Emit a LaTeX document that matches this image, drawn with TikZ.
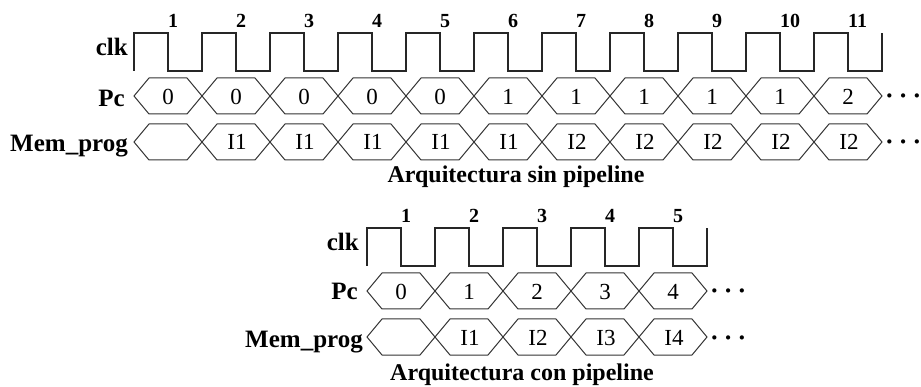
\documentclass[tikz,border=0pt]{standalone}
\usepackage{fontspec}
\setmainfont{Liberation Serif}
\usepackage{tikz}

\begin{document}
\begin{tikzpicture}[
  x=1pt, y=-1pt,
  sig/.style={line width=1.2pt, black!85},
  bus/.style={line width=1pt, black!80},
  lbl/.style={font=\fontsize{25}{25}\selectfont\bfseries, anchor=base east, inner sep=0pt},
  num/.style={font=\fontsize{20}{20}\selectfont\bfseries, anchor=base west, inner sep=0pt},
  val/.style={font=\fontsize{23}{23}\selectfont, anchor=base, inner sep=0pt},
  more/.style={font=\fontsize{26}{26}\selectfont\bfseries, anchor=base west, inner sep=0pt},
  title/.style={font=\fontsize{24}{24}\selectfont\bfseries, anchor=base, inner sep=0pt}
]
\useasboundingbox (0,0) rectangle (921,387);

% --- without pipeline: 11 clock cycles ---
\node[lbl] (clk1) at (128,56) {clk};
\node[lbl] (pc1) at (125,107) {Pc};
\node[lbl] (mem1) at (128,152) {Mem\_prog};
\draw[sig] (134,71) \foreach \i in {0,...,10}{ -- ++(0,-38) -- ++(34,0) -- ++(0,38) -- ++(34,0) } -- ++(0,-38);
\foreach \i in {1,...,11}
  \node[num] (n1-\i) at ({100+68*\i},28) {\i};
\foreach \v [count=\i from 0] in {0,0,0,0,0,1,1,1,1,1,2} {
  \draw[bus] ({134+68*\i},96) -- ++(15,-18) -- ++(38,0) -- ++(15,18) -- ++(-15,18) -- ++(-38,0) -- cycle;
  \node[val] (pc1-\i) at ({168+68*\i},105) {\v};
}
\foreach \v [count=\i from 0] in {{},I1,I1,I1,I1,I1,I2,I2,I2,I2,I2} {
  \draw[bus] ({134+68*\i},142) -- ++(15,-18) -- ++(38,0) -- ++(15,18) -- ++(-15,18) -- ++(-38,0) -- cycle;
  \node[val] (mem1-\i) at ({169+68*\i},150) {\v};
}
\node[more] (dots1a) at (885,105) {·\kern5pt·\kern5pt·};
\node[more] (dots1b) at (885,151) {·\kern5pt·\kern5pt·};
\node[title] (title1) at (516,183) {Arquitectura sin pipeline};

% --- with pipeline: 5 clock cycles ---
\node[lbl] (clk2) at (359,251) {clk};
\node[lbl] (pc2) at (358,300) {Pc};
\node[lbl] (mem2) at (363,347) {Mem\_prog};
\draw[sig] (367,266) \foreach \i in {0,...,4}{ -- ++(0,-38) -- ++(34,0) -- ++(0,38) -- ++(34,0) } -- ++(0,-38);
\foreach \i in {1,...,5}
  \node[num] (n2-\i) at ({333+68*\i},223) {\i};
\foreach \v [count=\i from 0] in {0,1,2,3,4} {
  \draw[bus] ({367+68*\i},291) -- ++(15,-18) -- ++(38,0) -- ++(15,18) -- ++(-15,18) -- ++(-38,0) -- cycle;
  \node[val] (pc2-\i) at ({401+68*\i},300) {\v};
}
\foreach \v [count=\i from 0] in {{},I1,I2,I3,I4} {
  \draw[bus] ({367+68*\i},337) -- ++(15,-18) -- ++(38,0) -- ++(15,18) -- ++(-15,18) -- ++(-38,0) -- cycle;
  \node[val] (mem2-\i) at ({402+68*\i},345) {\v};
}
\node[more] (dots2a) at (710,300) {·\kern5pt·\kern5pt·};
\node[more] (dots2b) at (710,346) {·\kern5pt·\kern5pt·};
\node[title] (title2) at (522,380) {Arquitectura con pipeline};
\end{tikzpicture}
\end{document}
